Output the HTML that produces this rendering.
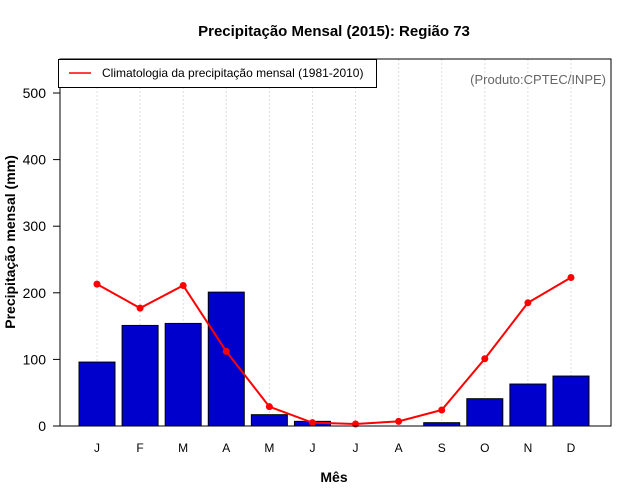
<!DOCTYPE html>
<html><head><meta charset="utf-8"><style>
body{margin:0;background:#fff;}
svg{display:block;font-family:"Liberation Sans",sans-serif;}
</style></head><body>
<svg id="chart" width="640" height="500">
<text x="334" y="36" text-anchor="middle" font-size="15" font-weight="bold">Precipitação Mensal (2015): Região 73</text>
<g id="grid"></g>
<g id="bars"></g>
<g id="line"></g>
<rect x="60" y="59" width="551" height="367" fill="none" stroke="#000" stroke-width="1"/>
<g id="yaxis"></g>
<g id="xaxis"></g>
<text x="334" y="482" text-anchor="middle" font-size="14" font-weight="bold">Mês</text>
<text transform="translate(15,242) rotate(-90)" text-anchor="middle" font-size="14" font-weight="bold">Precipitação mensal (mm)</text>
<g>
<rect x="58.5" y="59.5" width="318" height="28" fill="#fff" stroke="#000"/>
<line x1="69" y1="73" x2="91" y2="73" stroke="red" stroke-width="1.5"/>
<text x="102" y="77" font-size="12">Climatologia da precipitação mensal (1981-2010)</text>
</g>
<text x="606" y="84" text-anchor="end" font-size="13" fill="#666">(Produto:CPTEC/INPE)</text>
</svg>
<script>
const months = ["J","F","M","A","M","J","J","A","S","O","N","D"];
const observed = [96,151,154,201,17,7,0,0,5,41,63,75];
const climatology = [213,177,211,112,29,5,3,7,24,101,185,223];
const yTicks = [0,100,200,300,400,500];
const NS="http://www.w3.org/2000/svg";
const xc = i => 97 + i*43.09;
const y = v => 426 - v*0.666;
function mk(tag, attrs, parent){const e=document.createElementNS(NS,tag);for(const k in attrs)e.setAttribute(k,attrs[k]);document.getElementById(parent).appendChild(e);return e;}
months.forEach((m,i)=>{
  const g=mk("line",{x1:xc(i),x2:xc(i),y1:59,y2:426,stroke:"#ddd","stroke-dasharray":"2,2"},"grid");
  
  
  const b=mk("rect",{x:xc(i)-18,y:y(observed[i]),width:36,height:observed[i]*0.666,fill:"#0000cd",stroke:"#000","stroke-width":1},"bars");
  
  
  const t=mk("text",{x:xc(i),y:452,"text-anchor":"middle","font-size":12},"xaxis");
  t.textContent=m;
  
  
});
const pl=mk("polyline",{points:climatology.map((v,i)=>xc(i)+","+y(v)).join(" "),fill:"none",stroke:"red","stroke-width":2},"line");


climatology.forEach((v,i)=>{
  const c=mk("circle",{cx:xc(i),cy:y(v),r:3.5,fill:"red"},"line");
  
  
});
yTicks.forEach(v=>{
  const l=mk("line",{x1:53,x2:60,y1:y(v),y2:y(v),stroke:"#000"},"yaxis");
  
  
  const t=mk("text",{x:46,y:y(v)+5,"text-anchor":"end","font-size":14},"yaxis");
  t.textContent=v;
  
  
});
</script>
</body></html>
